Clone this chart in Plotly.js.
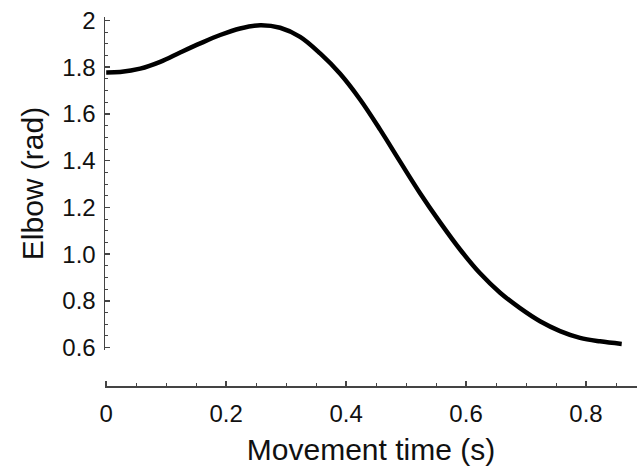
<!DOCTYPE html>
<html>
<head>
<meta charset="utf-8">
<script src="https://cdn.plot.ly/plotly-3.0.1.min.js"></script>
<style>html,body{margin:0;padding:0;background:#fff;}#chart{width:640px;height:466px;}</style>
</head>
<body>
<div id="chart"></div>
<script>
var times = [0, 0.0233, 0.0567, 0.09, 0.1233, 0.1567, 0.19, 0.2233, 0.2567, 0.29, 0.3233, 0.3567, 0.39, 0.4233, 0.4567, 0.49, 0.5233, 0.5567, 0.59, 0.6233, 0.6567, 0.69, 0.7233, 0.7567, 0.79, 0.8233, 0.8595];
var elbow = [1.778, 1.780, 1.794, 1.823, 1.863, 1.902, 1.938, 1.966, 1.980, 1.969, 1.930, 1.859, 1.772, 1.662, 1.533, 1.396, 1.261, 1.136, 1.020, 0.918, 0.835, 0.769, 0.713, 0.671, 0.642, 0.627, 0.616];
var xTickVals = [0, 0.2, 0.4, 0.6, 0.8];
var xTickText = ['0', '0.2', '0.4', '0.6', '0.8'];
var yTickVals = [0.6, 0.8, 1.0, 1.2, 1.4, 1.6, 1.8, 2.0];
var yTickText = ['0.6', '0.8', '1.0', '1.2', '1.4', '1.6', '1.8', '2'];

var font = 'Liberation Sans, Arial, sans-serif';
var axisColor = '#444';

var trace = {
  x: times, y: elbow, type: 'scatter', mode: 'lines',
  line: {color: '#000', width: 4.5, shape: 'spline', smoothing: 1},
  hoverinfo: 'skip'
};

var layout = {
  width: 640, height: 466,
  margin: {l: 105, r: 3, t: 17, b: 80},
  paper_bgcolor: '#fff', plot_bgcolor: '#fff',
  showlegend: false,
  xaxis: {
    range: [-0.002, 0.885], anchor: 'free', position: 0,
    showline: true, linecolor: axisColor, linewidth: 1.5,
    showgrid: false, zeroline: false,
    ticks: 'inside', ticklen: 5, tickwidth: 1.5, tickcolor: axisColor,
    tickmode: 'array', tickvals: xTickVals, ticktext: xTickText,
    minor: {ticks: 'inside', tickmode: 'linear', tick0: 0, dtick: 0.05, ticklen: 3, tickwidth: 1, tickcolor: axisColor, showgrid: false},
    tickfont: {family: font, size: 24, color: '#111'},
    ticklabelstandoff: 6,
    title: {text: 'Movement time (s)', font: {family: font, size: 30, color: '#111'}, standoff: 12}
  },
  yaxis: {
    domain: [0.0976, 1], range: [0.59, 2.015], anchor: 'x',
    showline: true, linecolor: axisColor, linewidth: 1.5,
    showgrid: false, zeroline: false,
    ticks: 'inside', ticklen: 5, tickwidth: 1.5, tickcolor: axisColor,
    tickmode: 'array', tickvals: yTickVals, ticktext: yTickText,
    minor: {ticks: 'inside', tickmode: 'linear', tick0: 0, dtick: 0.05, ticklen: 3, tickwidth: 1, tickcolor: axisColor, showgrid: false},
    tickfont: {family: font, size: 24, color: '#111'},
    ticklabelstandoff: 3,
    title: {text: 'Elbow (rad)', font: {family: font, size: 30, color: '#111'}, standoff: 10}
  }
};

Plotly.newPlot('chart', [trace], layout, {displayModeBar: false, staticPlot: true});
</script>
</body>
</html>
